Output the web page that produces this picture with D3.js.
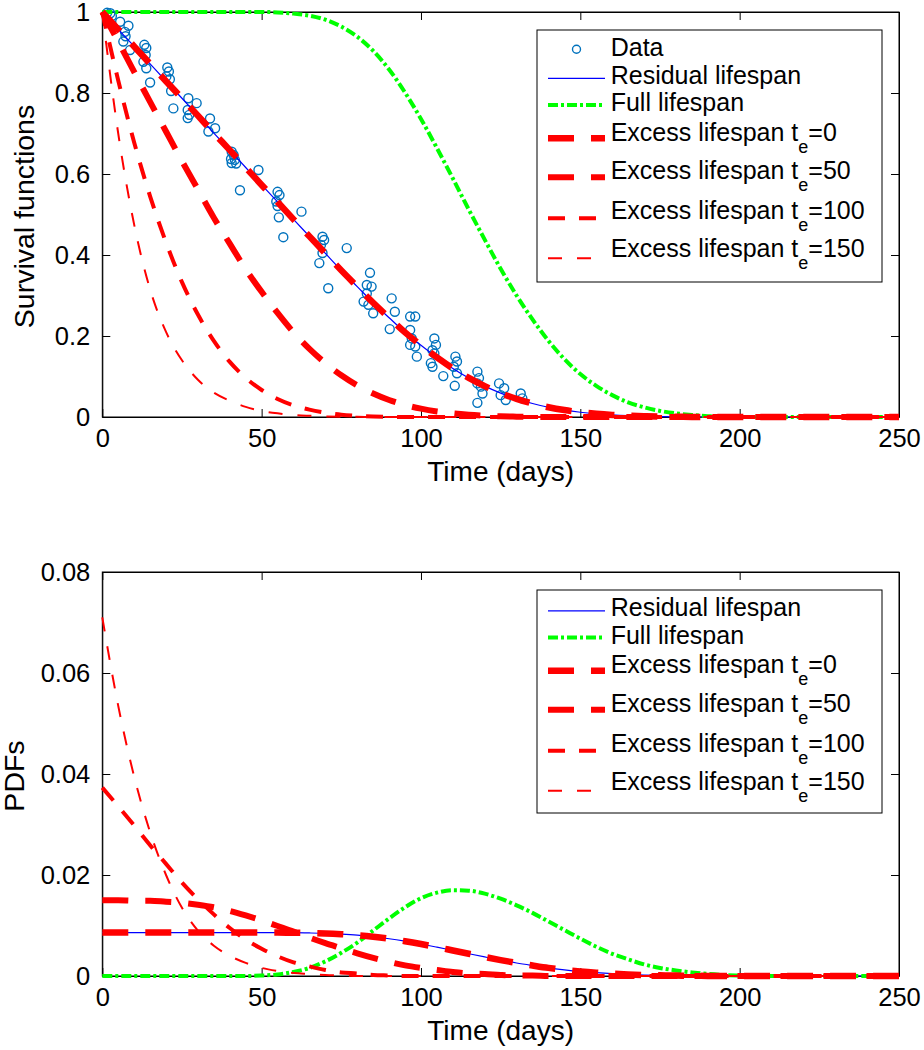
<!DOCTYPE html>
<html><head><meta charset="utf-8">
<script src="https://cdn.jsdelivr.net/npm/d3@7"></script>
<style>
body{margin:0;background:#fff;}
svg{display:block;}
text{font-family:"Liberation Sans",Arial,Helvetica,sans-serif;fill:#000;}
</style>
</head><body>
<svg id="chart" width="924" height="1050"></svg>
<script>
// ---------- DATA ----------
const days = [0,5,10,15,20,25,30,35,40,45,50,55,60,65,70,75,80,85,90,95,100,105,110,115,120,125,130,135,140,145,150,155,160,165,170,175,180,185,190,195,200,205,210,215,220,225,230,235,240,245,250];

const fullSurv = [1,1,1,1,1,1,1,1,1,1,1.000,0.999,0.996,0.991,0.981,0.964,0.939,0.904,0.858,0.801,0.736,0.664,0.589,0.512,0.438,0.366,0.300,0.241,0.188,0.143,0.106,0.077,0.054,0.036,0.024,0.015,0.009,0.005,0.002,0.001,0,0,0,0,0,0,0,0,0,0,0];
const residSurv = [1.000,0.957,0.915,0.872,0.829,0.787,0.744,0.701,0.659,0.616,0.573,0.531,0.488,0.446,0.404,0.362,0.322,0.282,0.245,0.209,0.177,0.147,0.120,0.0965,0.0762,0.0590,0.0448,0.0333,0.0241,0.0171,0.0118,0.0079,0.0051,0.0032,0.0019,0.0010,0.0005,0.0002,0.0001,0,0,0,0,0,0,0,0,0,0,0,0];
const excess0Surv = residSurv;
const excess50Surv = [1,0.927,0.852,0.778,0.705,0.632,0.562,0.492,0.428,0.365,0.309,0.257,0.209,0.168,0.133,0.103,0.0782,0.0581,0.0421,0.0298,0.0206,0.0138,0.0089,0.0056,0.0033,0.0017,0.0009,0.0003,0.0002,0,0,0,0,0,0,0,0,0,0,0,0,0,0,0,0,0,0,0,0,0,0];
const excess100Surv = [1,0.831,0.678,0.545,0.431,0.333,0.253,0.188,0.136,0.0966,0.0667,0.0446,0.0288,0.0181,0.0107,0.0056,0.0028,0.0011,0.0006,0,0,0,0,0,0,0,0,0,0,0,0,0,0,0,0,0,0,0,0,0,0,0,0,0,0,0,0,0,0,0,0];
const excess150Surv = [1,0.70,0.475,0.315,0.21,0.14,0.092,0.06,0.04,0.025,0.015,0.009,0.005,0.003,0.0016,0.0008,0.0004,0.0002,0,0,0,0,0,0,0,0,0,0,0,0,0,0,0,0,0,0,0,0,0,0,0,0,0,0,0,0,0,0,0,0,0];

const fullPdf = [0,0,0,0,0,0,0,0,0,0,0.0001,0.0003,0.0008,0.0016,0.0029,0.0046,0.0066,0.0090,0.0114,0.0136,0.0154,0.0165,0.0170,0.0169,0.0163,0.0153,0.0140,0.0125,0.0108,0.0091,0.0074,0.0058,0.0044,0.0033,0.0023,0.0016,0.0011,0.0007,0.0004,0.0002,0.0001,0,0,0,0,0,0,0,0,0,0];
const residPdf = [0.0086,0.0086,0.0086,0.0086,0.0086,0.0086,0.0086,0.0086,0.0086,0.0086,0.0086,0.00859,0.00857,0.00852,0.00844,0.00829,0.00808,0.00777,0.00738,0.00689,0.00633,0.00571,0.00506,0.00441,0.00377,0.00315,0.00258,0.00208,0.00161,0.00123,0.00091,0.00066,0.00046,0.00031,0.00020,0.00013,0.00008,0.00004,0.00002,0.00001,0,0,0,0,0,0,0,0,0,0,0];
const excess0Pdf = residPdf;
const excess50Pdf = [0.0150,0.0150,0.0149,0.0149,0.0147,0.0145,0.0141,0.0136,0.0129,0.0120,0.0110,0.0099,0.0088,0.0076,0.0065,0.0055,0.0045,0.0036,0.0028,0.0021,0.0016,0.0012,0.0008,0.0005,0.0004,0.0002,0.0001,0.0001,0,0,0,0,0,0,0,0,0,0,0,0,0,0,0,0,0,0,0,0,0,0,0];
const excess100Pdf = [0.0373,0.0336,0.0298,0.0259,0.0222,0.0185,0.0152,0.0122,0.0095,0.0072,0.0054,0.0039,0.0027,0.0019,0.0012,0.0007,0.0005,0.0002,0.0001,0,0,0,0,0,0,0,0,0,0,0,0,0,0,0,0,0,0,0,0,0,0,0,0,0,0,0,0,0,0,0,0];
const excess150Pdf = [0.071,0.0535,0.0395,0.0285,0.020,0.0135,0.009,0.006,0.004,0.0026,0.0016,0.001,0.0006,0.0004,0.0002,0.0001,0,0,0,0,0,0,0,0,0,0,0,0,0,0,0,0,0,0,0,0,0,0,0,0,0,0,0,0,0,0,0,0,0,0,0];

const dataDays = [1.5,2.5,3.0,5.6,8.2,7.1,7.3,6.6,8.7,13.2,13.8,13.6,12.9,13.8,15.0,20.4,20.9,20.1,21.2,21.6,22.3,27.0,29.6,26.8,27.3,26.8,33.8,35.4,33.3,40.6,41.2,40.4,41.6,40.6,42.0,49.0,43.2,55.0,55.6,54.6,55.0,55.4,56.8,62.5,69.1,69.6,68.6,69.1,68.1,76.7,70.9,84.0,83.0,84.5,83.0,82.0,83.5,85.0,90.8,91.8,90.2,96.6,98.2,96.6,97.1,96.6,98.2,98.7,104.2,104.7,103.6,104.2,103.1,103.6,107.0,110.8,111.3,110.3,111.3,110.6,117.7,118.2,117.7,118.8,119.3,117.7,124.5,126.1,125.0,126.6,131.3,131.8];
const dataSurv = [0.998,0.997,0.990,0.976,0.966,0.951,0.940,0.927,0.906,0.919,0.911,0.894,0.877,0.861,0.826,0.863,0.853,0.841,0.834,0.805,0.762,0.787,0.775,0.758,0.746,0.738,0.737,0.713,0.705,0.655,0.647,0.637,0.635,0.627,0.626,0.610,0.560,0.556,0.548,0.532,0.521,0.493,0.444,0.507,0.445,0.437,0.425,0.405,0.380,0.417,0.318,0.356,0.326,0.322,0.305,0.285,0.277,0.256,0.293,0.260,0.217,0.248,0.248,0.215,0.194,0.178,0.174,0.149,0.194,0.178,0.165,0.157,0.133,0.124,0.101,0.149,0.137,0.124,0.108,0.077,0.112,0.096,0.083,0.075,0.058,0.035,0.083,0.071,0.054,0.042,0.058,0.046];

const excessTimes = [0,50,100,150];
const xTicks = [0,50,100,150,200,250];
const xTickLabels = ["0","50","100","150","200","250"];
const yTopTicks = [0,0.2,0.4,0.6,0.8,1];
const yTopTickLabels = ["0","0.2","0.4","0.6","0.8","1"];
const yBotTicks = [0,0.02,0.04,0.06,0.08];
const yBotTickLabels = ["0","0.02","0.04","0.06","0.08"];
const xTitle = "Time (days)";
const yTopTitle = "Survival functions";
const yBotTitle = "PDFs";

// ---------- STYLES ----------
const stResid = {color:"#0000ff", width:1.2, dash:null};
const stFull  = {color:"#00ff00", width:4, dash:"10,3,3,3"};
const stEx = [
  {color:"#ff0000", width:6.5, dash:"26,17"},
  {color:"#ff0000", width:6, dash:"26,17"},
  {color:"#ff0000", width:4, dash:"17,14"},
  {color:"#ff0000", width:2, dash:"14,15"}
];
const dataColor = "#0072BD";

const svg = d3.select("#chart");
const FONT = '"Liberation Sans",Arial,Helvetica,sans-serif';
const x = d3.scaleLinear().domain([0,250]).range([102.3, 899]);

function panel(y, yTicks, yLabels, yTitleText, titleX, axisBottomY, axisTopY) {
  const g = svg.append("g");
  // box
  g.append("rect").attr("x", x(0)).attr("y", axisTopY)
   .attr("width", x(250)-x(0)).attr("height", axisBottomY-axisTopY)
   .attr("fill","none").attr("stroke","#000").attr("stroke-width",1);
  const fmtX = (d,i)=>xTickLabels[xTicks.indexOf(d)];
  const fmtY = (d)=>yLabels[yTicks.indexOf(d)];
  const ab = d3.axisBottom(x).tickValues(xTicks).tickFormat(fmtX).tickSizeInner(-8).tickSizeOuter(0).tickPadding(12);
  const at = d3.axisTop(x).tickValues(xTicks).tickFormat("").tickSizeInner(-8).tickSizeOuter(0);
  const al = d3.axisLeft(y).tickValues(yTicks).tickFormat(fmtY).tickSizeInner(-8).tickSizeOuter(0).tickPadding(12);
  const ar = d3.axisRight(y).tickValues(yTicks).tickFormat("").tickSizeInner(-8).tickSizeOuter(0);
  const gb = g.append("g").attr("transform",`translate(0,${axisBottomY})`).call(ab);
  const gt = g.append("g").attr("transform",`translate(0,${axisTopY})`).call(at);
  const gl = g.append("g").attr("transform",`translate(${x(0)},0)`).call(al);
  const gr = g.append("g").attr("transform",`translate(${x(250)},0)`).call(ar);
  [gb,gt,gl,gr].forEach(a=>{
    a.selectAll("path.domain").attr("stroke","#000").attr("stroke-width",1);
    a.selectAll("line").attr("stroke","#000").attr("stroke-width",1);
    a.selectAll("text").attr("font-family",FONT).attr("font-size",25.5).attr("fill","#000");
  });
  // x title
  g.append("text").attr("x", (x(0)+x(250))/2).attr("y", axisBottomY+64)
   .attr("text-anchor","middle").attr("font-size",28).text(xTitle);
  // y title
  const cy = (axisTopY+axisBottomY)/2 + 2;
  g.append("text").attr("transform",`translate(${titleX},${cy}) rotate(-90)`)
   .attr("text-anchor","middle").attr("font-size",28.5).text(yTitleText);
  return g;
}

function drawLine(g, y, values, st) {
  const line = d3.line().x((d,i)=>x(days[i])).y(d=>y(d)).curve(d3.curveMonotoneX);
  const p = g.append("path").datum(values).attr("d", line)
   .attr("fill","none").attr("stroke", st.color).attr("stroke-width", st.width)
   .attr("stroke-linejoin","round");
  if (st.dash) p.attr("stroke-dasharray", st.dash);
}

function legend(g, boxY, boxH, rowShift, includeData) {
  const lx = 537, lw = 345;
  g.append("rect").attr("x",lx).attr("y",boxY).attr("width",lw).attr("height",boxH)
   .attr("fill","#fff").attr("stroke","#000").attr("stroke-width",1);
  const textX = 610.7, s0 = 548, s1 = 605;
  // layout per row (top legend coordinates)
  const rows = [
    {kind:"data", base:56, ly:49.3},
    {kind:"resid", base:83.5, ly:78.3, label:"Residual lifespan", st:stResid},
    {kind:"full", base:111, ly:105, label:"Full lifespan", st:stFull},
    {kind:"ex", i:0, base:140.7, ly:138.3},
    {kind:"ex", i:1, base:179, ly:177.3},
    {kind:"ex", i:2, base:219, ly:218.3},
    {kind:"ex", i:3, base:257.3, ly:258.3}
  ];
  const use = includeData ? rows : rows.slice(1);
  use.forEach(r=>{
    const base = r.base + rowShift, ly = r.ly + rowShift;
    if (r.kind==="data") {
      g.append("circle").attr("cx",(s0+s1)/2).attr("cy",ly).attr("r",4)
       .attr("fill","none").attr("stroke",dataColor).attr("stroke-width",1.4);
      g.append("text").attr("x",textX).attr("y",base).attr("font-size",25).text("Data");
    } else {
      const st = r.kind==="ex" ? stEx[r.i] : r.st;
      const l = g.append("line").attr("x1",s0).attr("x2",s1).attr("y1",ly).attr("y2",ly)
        .attr("stroke",st.color).attr("stroke-width",st.width);
      if (st.dash) l.attr("stroke-dasharray", st.dash);
      const t = g.append("text").attr("x",textX).attr("y",base).attr("font-size",25);
      if (r.kind==="ex") {
        t.append("tspan").text("Excess lifespan t");
        t.append("tspan").attr("dy",12).attr("font-size",18).text("e");
        t.append("tspan").attr("dy",-12).attr("font-size",25).text("=" + excessTimes[r.i]);
      } else {
        t.text(r.label);
      }
    }
  });
}

// ---------- TOP PANEL ----------
const yTop = d3.scaleLinear().domain([0,1]).range([417,12]);
const gTop = panel(yTop, yTopTicks, yTopTickLabels, yTopTitle, 33.5, 417, 12);
const gTopMarks = svg.append("g");
gTopMarks.selectAll("circle").data(dataDays).enter().append("circle")
  .attr("cx",(d)=>x(d)).attr("cy",(d,i)=>yTop(dataSurv[i])).attr("r",4.5)
  .attr("fill","none").attr("stroke",dataColor).attr("stroke-width",1.4);
drawLine(gTopMarks, yTop, residSurv, stResid);
drawLine(gTopMarks, yTop, fullSurv, stFull);
[excess0Surv, excess50Surv, excess100Surv, excess150Surv].forEach((v,i)=>drawLine(gTopMarks, yTop, v, stEx[i]));
legend(svg.append("g"), 30, 252, 0, true);

// ---------- BOTTOM PANEL ----------
const yBot = d3.scaleLinear().domain([0,0.08]).range([976,572]);
const gBot = panel(yBot, yBotTicks, yBotTickLabels, yBotTitle, 23.5, 976, 572);
const gBotMarks = svg.append("g");
drawLine(gBotMarks, yBot, residPdf, stResid);
drawLine(gBotMarks, yBot, fullPdf, stFull);
[excess0Pdf, excess50Pdf, excess100Pdf, excess150Pdf].forEach((v,i)=>drawLine(gBotMarks, yBot, v, stEx[i]));
legend(svg.append("g"), 590, 223, 532.5, false);
</script>
</body></html>
